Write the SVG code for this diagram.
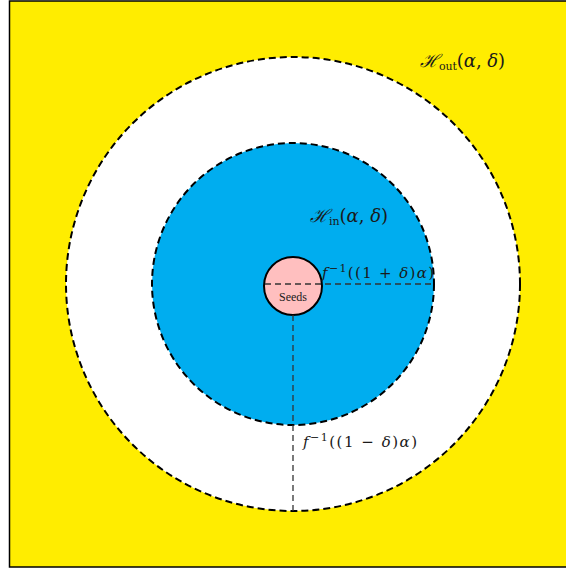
<svg xmlns="http://www.w3.org/2000/svg" width="566" height="570" viewBox="0 0 566 570">
<style>
.lbl{font-family:"DejaVu Serif","Liberation Serif",serif;fill:#1a1a1a}
.it{font-style:italic}
.ring{stroke:#000;stroke-width:2;stroke-dasharray:7 4}
.guide{stroke:#333;stroke-width:1.3;stroke-dasharray:6 4;fill:none}
</style>
<rect x="0" y="0" width="566" height="570" fill="#fff"/>
<g id="background">
<rect x="9.5" y="1" width="560" height="566" fill="#ffed00" stroke="#000" stroke-width="1.5"/>
</g>
<g id="h-out">
<circle cx="293" cy="284" r="227" fill="#fff" class="ring"/>
<text class="lbl" x="420" y="67" font-size="18" textLength="85" lengthAdjust="spacing"><tspan class="it">ℋ</tspan><tspan font-size="11" dy="3">out</tspan><tspan dy="-3">(</tspan><tspan class="it">α</tspan><tspan>, </tspan><tspan class="it">δ</tspan><tspan>)</tspan></text>
</g>
<g id="h-in">
<circle cx="293" cy="284" r="141" fill="#00adef" class="ring"/>
<text class="lbl" x="310" y="222" font-size="18" textLength="78" lengthAdjust="spacing"><tspan class="it">ℋ</tspan><tspan font-size="11" dy="3">in</tspan><tspan dy="-3">(</tspan><tspan class="it">α</tspan><tspan>, </tspan><tspan class="it">δ</tspan><tspan>)</tspan></text>
</g>
<g id="seeds">
<circle cx="293" cy="286" r="29" fill="#ffbfbf" stroke="#000" stroke-width="2"/>
<text x="293" y="301" font-size="12" text-anchor="middle" font-family="Liberation Serif, serif" fill="#1a1a1a">Seeds</text>
</g>
<g id="connectors">
<line x1="265" y1="284" x2="434" y2="284" class="guide"/>
<line x1="293" y1="315" x2="293" y2="511" class="guide"/>
</g>
<g id="label-plus">
<text class="lbl" x="322" y="278" font-size="15" textLength="112" lengthAdjust="spacing"><tspan class="it">f</tspan><tspan font-size="11" dy="-6">−1</tspan><tspan dy="6">((1 + </tspan><tspan class="it">δ</tspan><tspan>)</tspan><tspan class="it">α</tspan><tspan>)</tspan></text>
</g>
<g id="label-minus">
<text class="lbl" x="303" y="447" font-size="15" textLength="114" lengthAdjust="spacing"><tspan class="it">f</tspan><tspan font-size="11" dy="-6">−1</tspan><tspan dy="6">((1 − </tspan><tspan class="it">δ</tspan><tspan>)</tspan><tspan class="it">α</tspan><tspan>)</tspan></text>
</g>
</svg>
